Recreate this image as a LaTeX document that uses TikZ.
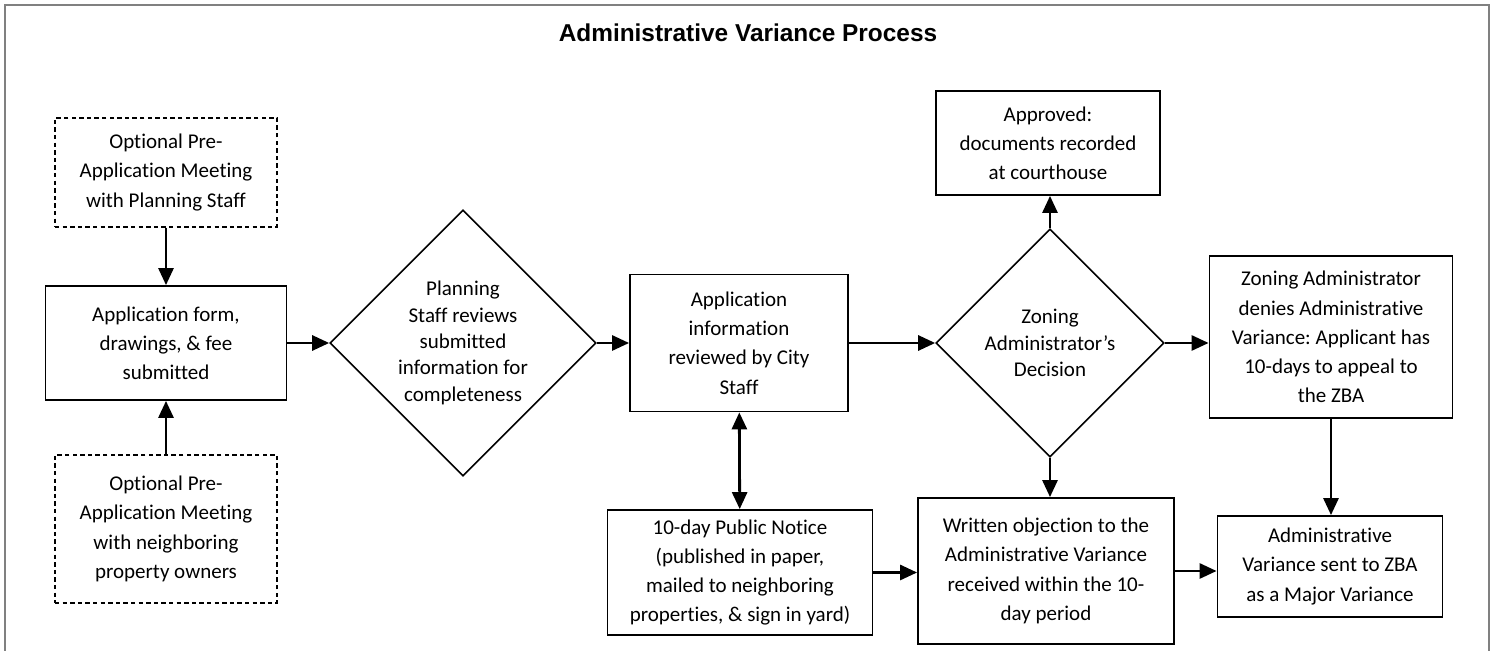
\documentclass[tikz,border=0pt]{standalone}
\usepackage{fontspec}
\setmainfont{Carlito}[Ligatures={NoCommon,NoContextual}]
\newfontfamily\headfont{Liberation Sans}
\usetikzlibrary{shapes.geometric,arrows.meta}
\frenchspacing

\tikzset{
  stepbox/.style={shape=rectangle,draw,line width=0.9pt,align=center,inner sep=0pt,
    font=\fontsize{10.5}{14.6}\selectfont},
  optbox/.style={stepbox,line width=0.6pt,dash pattern=on 2.2pt off 1.6pt},
  choice/.style={shape=diamond,draw,line width=0.8pt,aspect=1,align=center,inner sep=0pt,
    font=\fontsize{10.5}{13.2}\selectfont},
  flow/.style={line width=1.4pt}
}

\begin{document}
\begin{tikzpicture}[x=0.5pt,y=-0.5pt,>={Triangle[length=8.5pt,width=7.5pt]}]
\useasboundingbox (0,0) rectangle (1496,651);
\draw[black!50,line width=1pt] (5,651) -- (5,5) -- (1489,5) -- (1489,651);

\node(title) at (748,33) {\headfont\bfseries\fontsize{12.2}{14}\selectfont Administrative Variance Process};

\node(pre1) at (166,172.5)[optbox,minimum width=111pt,minimum height=54.5pt]
  {Optional Pre-\\Application Meeting\\with Planning Staff};
\node(app) at (166,343)[stepbox,minimum width=120.5pt,minimum height=57pt]
  {Application form,\\drawings, \& fee\\submitted};
\node(pre2) at (166,529)[optbox,minimum width=111pt,minimum height=74pt]
  {Optional Pre-\\Application Meeting\\with neighboring\\property owners};
\node(check) at (463,343)[choice,minimum width=133pt,minimum height=133pt]
  {Planning\\Staff reviews\\submitted\\information for\\completeness};
\node(review) at (739,343)[stepbox,minimum width=109pt,minimum height=68.5pt]
  {Application\\information\\reviewed by City\\Staff};
\node(decision) at (1050,343)[choice,minimum width=114pt,minimum height=114pt]
  {Zoning\\Administrator’s\\Decision};
\node(approved) at (1048,143)[stepbox,minimum width=112pt,minimum height=52pt]
  {Approved:\\documents recorded\\at courthouse};
\node(denied) at (1331,337)[stepbox,minimum width=121.5pt,minimum height=81pt]
  {Zoning Administrator\\denies Administrative\\Variance: Applicant has\\10-days to appeal to\\the ZBA};
\node(notice) at (740,572.5)[stepbox,minimum width=132.5pt,minimum height=62.5pt]
  {10-day Public Notice\\(published in paper,\\mailed to neighboring\\properties, \& sign in yard)};
\node(objection) at (1046,571)[stepbox,minimum width=128pt,minimum height=73pt]
  {Written objection to the\\Administrative Variance\\received within the 10-\\day period};
\node(zba) at (1330,566.5)[stepbox,minimum width=112.5pt,minimum height=50.5pt]
  {Administrative\\Variance sent to ZBA\\as a Major Variance};

\path [->,flow]
  (pre1)     edge  (app)
  (pre2)     edge  (app)
  (app)      edge  (check)
  (check)    edge  (review)
  (review)   edge  (decision)
  (decision.north) edge (decision.north |- approved.south)
  (decision.east)  edge (decision.east -| denied.west)
  (decision.south) edge (decision.south |- objection.north)
  (denied.south)   edge (denied.south |- zba.north)
  (notice.east)    edge (notice.east -| objection.west)
  (objection.east) edge (objection.east -| zba.west);
\path [<->,flow]
  (review)   edge  (notice);

\end{tikzpicture}
\end{document}
